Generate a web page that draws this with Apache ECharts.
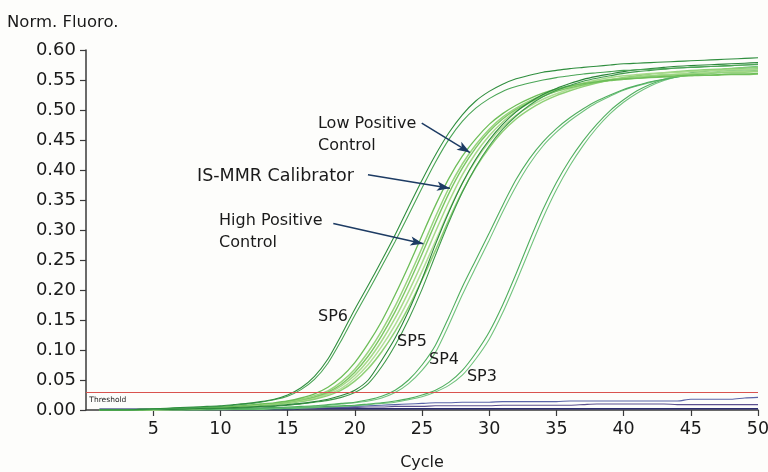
<!DOCTYPE html>
<html><head><meta charset="utf-8">
<script src="https://cdn.jsdelivr.net/npm/echarts@6/dist/echarts.min.js"></script>
<style>html,body{margin:0;padding:0;background:#fdfdfb}#c{width:768px;height:472px}</style>
</head><body><div id="c"></div>
<script>
const cycles = [1,2,3,4,5,6,7,8,9,10,11,12,13,14,15,16,17,18,19,20,21,22,23,24,25,26,27,28,29,30,31,32,33,34,35,36,37,38,39,40,41,42,43,44,45,46,47,48,49,50];
const xTicks = [5,10,15,20,25,30,35,40,45,50];
const threshold = 0.0295;

const sp6a = [0,0,0,0.001,0.002,0.003,0.004,0.005,0.006,0.007, 0.009,0.011,0.014,0.018,0.025,0.037,0.056,0.085,0.125,0.168, 0.208,0.249,0.292,0.338,0.383,0.425,0.462,0.492,0.515,0.531, 0.543,0.552,0.558,0.563,0.566,0.569,0.571,0.573,0.575,0.577, 0.578,0.579,0.58,0.581,0.582,0.583,0.584,0.585,0.586,0.587];
const sp6b = [0,0,0,0.001,0.001,0.002,0.003,0.004,0.005,0.006, 0.008,0.010,0.013,0.017,0.023,0.034,0.051,0.078,0.116,0.158, 0.198,0.239,0.281,0.325,0.37,0.413,0.451,0.481,0.503,0.519, 0.531,0.539,0.545,0.55,0.554,0.557,0.56,0.562,0.564,0.566, 0.567,0.568,0.569,0.57,0.571,0.572,0.573,0.574,0.575,0.576];
const cal1 = [0,0,0,0,0.001,0.002,0.002,0.003,0.004,0.005, 0.006,0.007,0.009,0.011,0.014,0.018,0.024,0.032,0.047,0.068, 0.097,0.132,0.173,0.22,0.27,0.322,0.37,0.41,0.442,0.468, 0.488,0.503,0.515,0.525,0.533,0.539,0.544,0.548,0.551,0.553, 0.555,0.557,0.558,0.559,0.56,0.561,0.562,0.563,0.563,0.564];
const cal2 = [0,0,0,0,0.001,0.001,0.002,0.003,0.003,0.004, 0.005,0.006,0.008,0.010,0.012,0.016,0.021,0.028,0.040,0.058, 0.083,0.115,0.153,0.197,0.245,0.297,0.347,0.392,0.428,0.457, 0.48,0.498,0.512,0.523,0.532,0.539,0.545,0.55,0.554,0.557, 0.559,0.561,0.562,0.563,0.564,0.565,0.566,0.567,0.567,0.568];
const cal3 = [0,0,0,0.001,0.001,0.002,0.003,0.003,0.004,0.005, 0.006,0.008,0.010,0.012,0.015,0.020,0.027,0.038,0.055,0.079, 0.111,0.148,0.192,0.240,0.291,0.341,0.386,0.423,0.452,0.476, 0.494,0.508,0.519,0.528,0.535,0.540,0.544,0.547,0.55,0.552, 0.553,0.555,0.556,0.557,0.558,0.558,0.559,0.56,0.56,0.561];
const cal4 = [0,0,0,0,0,0.001,0.002,0.002,0.003,0.004, 0.005,0.006,0.007,0.009,0.011,0.014,0.018,0.024,0.033,0.048, 0.069,0.097,0.131,0.171,0.217,0.266,0.317,0.364,0.404,0.437, 0.464,0.485,0.501,0.514,0.524,0.532,0.539,0.545,0.55,0.554, 0.557,0.56,0.562,0.564,0.566,0.567,0.568,0.569,0.57,0.571];
const cal5 = [0,0,0,0,0.001,0.001,0.002,0.003,0.004,0.004, 0.005,0.007,0.008,0.010,0.013,0.017,0.022,0.030,0.043,0.063, 0.090,0.124,0.164,0.210,0.26,0.312,0.361,0.403,0.437,0.464, 0.485,0.501,0.513,0.523,0.531,0.537,0.542,0.546,0.549,0.551, 0.553,0.554,0.555,0.556,0.557,0.558,0.558,0.559,0.559,0.56];
const cal6 = [0,0,0,0,0,0.001,0.001,0.002,0.003,0.004, 0.005,0.006,0.008,0.009,0.012,0.015,0.019,0.026,0.036,0.053, 0.076,0.106,0.142,0.184,0.231,0.281,0.332,0.378,0.416,0.447, 0.472,0.491,0.506,0.518,0.527,0.535,0.541,0.546,0.55,0.553, 0.555,0.557,0.559,0.56,0.561,0.562,0.563,0.564,0.564,0.565];
const sp5a = [0,0,0,0,0.001,0.001,0.002,0.002,0.003,0.003, 0.004,0.005,0.006,0.007,0.009,0.011,0.014,0.018,0.024,0.033, 0.05,0.083,0.12,0.165,0.218,0.276,0.33,0.378,0.418,0.45, 0.476,0.497,0.513,0.526,0.536,0.544,0.551,0.556,0.56,0.564, 0.567,0.569,0.571,0.573,0.574,0.575,0.576,0.577,0.578,0.579];
const sp5b = [0,0,0,0,0.001,0.001,0.001,0.002,0.002,0.003, 0.003,0.004,0.005,0.006,0.008,0.010,0.013,0.016,0.021,0.029, 0.044,0.072,0.108,0.151,0.201,0.258,0.313,0.363,0.405,0.44, 0.468,0.49,0.508,0.522,0.533,0.541,0.548,0.553,0.557,0.561, 0.564,0.566,0.568,0.57,0.571,0.572,0.573,0.574,0.575,0.576];
const sp4a = [0,0,0,0,0,0,0,0.001,0.001,0.002, 0.002,0.003,0.003,0.004,0.005,0.006,0.007,0.009,0.011,0.013, 0.017,0.023,0.033,0.05,0.075,0.108,0.155,0.205,0.25,0.295, 0.341,0.384,0.419,0.447,0.469,0.487,0.502,0.515,0.525,0.534, 0.541,0.547,0.551,0.555,0.558,0.56,0.562,0.564,0.565,0.566];
const sp4b = [0,0,0,0,0,0,0,0,0.001,0.001, 0.002,0.002,0.003,0.003,0.004,0.005,0.006,0.008,0.010,0.012, 0.015,0.02,0.029,0.044,0.066,0.096,0.142,0.192,0.238,0.283, 0.33,0.373,0.41,0.44,0.463,0.482,0.498,0.512,0.523,0.533, 0.54,0.546,0.551,0.555,0.559,0.562,0.564,0.566,0.567,0.569];
const sp3a = [0,0,0,0,0,0,0,0,0,0.001, 0.001,0.001,0.002,0.002,0.003,0.004,0.005,0.006,0.007,0.008, 0.01,0.012,0.015,0.019,0.025,0.033,0.046,0.066,0.095,0.13, 0.175,0.227,0.282,0.334,0.379,0.417,0.449,0.476,0.499,0.517, 0.532,0.543,0.551,0.557,0.562,0.565,0.567,0.569,0.57,0.571];
const sp3b = [0,0,0,0,0,0,0,0,0,0, 0.001,0.001,0.001,0.002,0.002,0.003,0.004,0.005,0.006,0.007, 0.009,0.011,0.013,0.017,0.022,0.03,0.041,0.058,0.085,0.118, 0.162,0.213,0.267,0.32,0.367,0.407,0.441,0.47,0.494,0.513, 0.528,0.54,0.549,0.556,0.561,0.564,0.567,0.569,0.571,0.573];
const neg1 = [0.001,0.001,0.001,0.001,0.001,0.002,0.002,0.002,0.002,0.003, 0.003,0.003,0.003,0.004,0.004,0.004,0.005,0.005,0.005,0.006, 0.007,0.008,0.009,0.01,0.011,0.012,0.012,0.013,0.013,0.013, 0.014,0.014,0.014,0.014,0.014,0.015,0.015,0.015,0.015,0.015, 0.015,0.015,0.015,0.015,0.018,0.018,0.018,0.018,0.02,0.021];
const neg2 = [0,0,0,0.001,0.001,0.001,0.001,0.001,0.002,0.002, 0.002,0.002,0.002,0.003,0.003,0.003,0.003,0.004,0.004,0.004, 0.005,0.005,0.006,0.006,0.006,0.007,0.007,0.007,0.007,0.007, 0.008,0.008,0.008,0.008,0.008,0.008,0.009,0.01,0.01,0.01, 0.01,0.01,0.01,0.009,0.009,0.009,0.009,0.009,0.009,0.009];
const neg3 = [0.001,0.001,0.001,0.001,0.001,0.001,0.001,0.001,0.001,0.001, 0.001,0.001,0.001,0.001,0.001,0.002,0.002,0.002,0.002,0.002, 0.002,0.002,0.002,0.002,0.002,0.002,0.002,0.002,0.002,0.002, 0.002,0.002,0.002,0.002,0.002,0.002,0.002,0.002,0.002,0.002, 0.002,0.002,0.002,0.002,0.002,0.002,0.002,0.002,0.002,0.002];

const FONT = 'DejaVu Sans';
const chart = echarts.init(document.getElementById('c'), null, {renderer: 'canvas'});

const curves = [
  {d: neg3, c: '#2c2c6e', w: 1.6}, {d: neg2, c: '#5b4f8f', w: 1.1}, {d: neg1, c: '#5a64a8', w: 1.1},
  {d: sp3b, c: '#72c37e', w: 1.1}, {d: sp3a, c: '#4fae5e', w: 1.1},
  {d: sp4b, c: '#72c37e', w: 1.1}, {d: sp4a, c: '#4fae5e', w: 1.1},
  {d: cal6, c: '#b2de98', w: 1.5}, {d: cal4, c: '#8fd076', w: 1.5}, {d: cal2, c: '#a6d98a', w: 1.5},
  {d: cal5, c: '#7cc664', w: 1.4}, {d: cal1, c: '#98d47e', w: 1.5}, {d: cal3, c: '#6dbd58', w: 1.3},
  {d: sp5b, c: '#3f9a4a', w: 1.1}, {d: sp5a, c: '#2a8639', w: 1.1},
  {d: sp6b, c: '#4aa556', w: 1.1}, {d: sp6a, c: '#2f8e3e', w: 1.1}
];

const series = curves.map(o => ({
  type: 'line', data: cycles.map((x, i) => [x, o.d[i]]), showSymbol: false, smooth: 0.25,
  lineStyle: {color: o.c, width: o.w}, silent: true, animation: false, z: 3
}));

series.push({
  type: 'line', data: [], silent: true, animation: false, z: 2,
  markLine: {
    silent: true, symbol: ['none', 'none'], label: {show: false},
    lineStyle: {color: '#d9534f', width: 1, type: 'solid'},
    data: [{yAxis: threshold}]
  }
});

const arrowColor = '#1d3b63';
series.push({
  type: 'line', data: [], silent: true, animation: false, z: 6,
  markLine: {
    silent: true, symbol: ['none', 'arrow'], symbolSize: [7, 13], label: {show: false},
    lineStyle: {color: arrowColor, width: 1.5, type: 'solid'},
    data: [
      [{coord: [24.98, 0.478]}, {coord: [28.57, 0.429]}],
      [{coord: [20.98, 0.392]}, {coord: [27.08, 0.3695]}],
      [{coord: [18.4, 0.311]}, {coord: [25.1, 0.277]}]
    ]
  }
});

const txt = (x, y, s, pos, size) => ({
  value: [x, y],
  label: {show: true, formatter: s, position: pos, distance: 0, fontFamily: FONT, fontSize: size || 16,
    color: '#1a1a1a', opacity: 1, textBorderWidth: 0, lineHeight: 22, align: pos === 'right' ? 'left' : 'center'}
});
series.push({
  type: 'scatter', symbolSize: 0, silent: true, animation: false, z: 7,
  itemStyle: {opacity: 1, color: 'transparent'},
  data: [
    txt(17.26, 0.458, 'Low Positive\nControl', 'right', 16),
    txt(8.26, 0.39, 'IS-MMR Calibrator', 'right', 17.5),
    txt(9.9, 0.297, 'High Positive\nControl', 'right', 16),
    txt(18.38, 0.155, 'SP6', 'inside', 16),
    txt(24.26, 0.113, 'SP5', 'inside', 16),
    txt(26.64, 0.083, 'SP4', 'inside', 16),
    txt(29.46, 0.055, 'SP3', 'inside', 16),
    {value: [0.25, 0.0167], label: {show: true, formatter: 'Threshold', position: 'right', distance: 0,
      fontFamily: FONT, fontSize: 7.5, color: '#222', opacity: 1}}
  ]
});

chart.setOption({
  backgroundColor: '#fdfdfb',
  animation: false,
  title: {text: 'Norm. Fluoro.', left: 2, top: 9,
    textStyle: {fontFamily: FONT, fontSize: 16.5, fontWeight: 'normal', color: '#1a1a1a'}},
  grid: {left: 86, right: 10, top: 50, bottom: 62, containLabel: false, outerBoundsMode: 'none'},
  xAxis: {
    type: 'value', min: 0, max: 50, interval: 5,
    name: 'Cycle', nameLocation: 'middle', nameGap: 45,
    nameTextStyle: {fontFamily: FONT, fontSize: 16, color: '#1a1a1a'},
    axisLine: {lineStyle: {color: '#3a3a3a', width: 1.5}},
    axisTick: {show: true, length: 6, lineStyle: {color: '#3a3a3a', width: 1.2}, customValues: xTicks},
    axisLabel: {fontFamily: FONT, fontSize: 17.5, color: '#1a1a1a', margin: 10, customValues: xTicks},
    splitLine: {show: false}
  },
  yAxis: {
    type: 'value', min: 0, max: 0.6, interval: 0.05,
    axisLine: {show: true, lineStyle: {color: '#3a3a3a', width: 1.5}},
    axisTick: {show: true, length: 6, lineStyle: {color: '#3a3a3a', width: 1.2}},
    axisLabel: {fontFamily: FONT, fontSize: 18, color: '#1a1a1a', margin: 10,
      formatter: v => v.toFixed(2)},
    splitLine: {show: false}
  },
  series: series
});
</script>
</body></html>
